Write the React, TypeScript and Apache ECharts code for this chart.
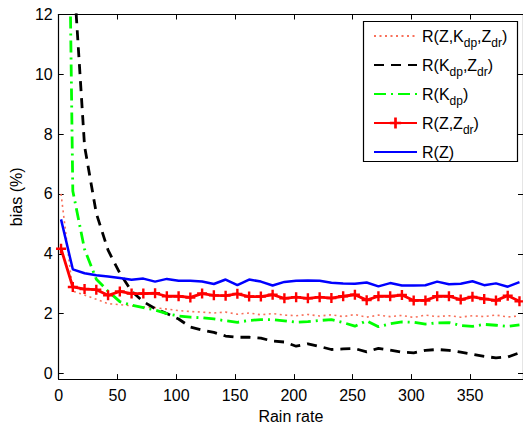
import React, { useEffect, useRef } from 'react';
import * as echarts from 'echarts';

const rainRate = [2, 12, 22, 32, 42, 52, 62, 72, 82, 92, 102, 112, 122, 132, 142, 152, 162, 172, 182, 192, 202, 212, 222, 232, 242, 252, 262, 272, 282, 292, 302, 312, 322, 332, 342, 352, 362, 372, 382, 392];

const biasZKdpZdr = [6.0, 2.75, 2.62, 2.48, 2.33, 2.3, 2.26, 2.22, 2.2, 2.15, 2.1, 2.07, 2.05, 2.02, 2.05, 1.98, 2.02, 1.96, 2.0, 1.95, 1.93, 1.97, 1.92, 1.96, 1.9, 1.97, 1.88, 1.95, 1.9, 1.94, 1.87, 1.95, 1.9, 1.93, 1.88, 1.93, 1.9, 1.95, 1.89, 1.92];

const biasKdpZdr = [45, 13.8, 7.6, 5.35, 4.12, 3.35, 2.75, 2.4, 2.17, 2.0, 1.82, 1.55, 1.45, 1.37, 1.25, 1.21, 1.21, 1.18, 1.08, 1.05, 0.91, 0.99, 0.9, 0.8, 0.82, 0.83, 0.72, 0.84, 0.78, 0.71, 0.69, 0.77, 0.8, 0.77, 0.71, 0.64, 0.57, 0.52, 0.55, 0.69];

const biasKdp = [36, 6.1, 4.15, 3.15, 2.75, 2.4, 2.28, 2.2, 2.12, 2.0, 1.92, 1.88, 1.86, 1.82, 1.76, 1.71, 1.77, 1.8, 1.8, 1.76, 1.71, 1.73, 1.77, 1.8, 1.7, 1.58, 1.76, 1.56, 1.66, 1.72, 1.71, 1.65, 1.69, 1.7, 1.6, 1.57, 1.64, 1.61, 1.57, 1.62];

const biasZZdr = [4.17, 2.89, 2.82, 2.8, 2.61, 2.74, 2.67, 2.67, 2.68, 2.58, 2.58, 2.54, 2.67, 2.61, 2.6, 2.66, 2.57, 2.57, 2.63, 2.51, 2.55, 2.51, 2.55, 2.52, 2.58, 2.63, 2.45, 2.58, 2.58, 2.62, 2.44, 2.44, 2.58, 2.58, 2.47, 2.56, 2.49, 2.44, 2.6, 2.41];

const biasZ = [5.15, 3.48, 3.35, 3.28, 3.24, 3.19, 3.13, 3.17, 3.07, 3.16, 3.1, 3.1, 3.07, 2.99, 3.14, 2.95, 3.14, 3.07, 2.94, 3.06, 3.1, 3.11, 3.1, 3.03, 3.01, 3.0, 3.04, 2.91, 3.02, 2.94, 2.94, 2.95, 3.07, 2.98, 3.0, 3.08, 2.95, 3.01, 2.9, 3.05];

const seriesNames = ['R(Z,Kdp,Zdr)', 'R(Kdp,Zdr)', 'R(Kdp)', 'R(Z,Zdr)', 'R(Z)'];
const legendLabels: Record<string, string> = {
  'R(Z,Kdp,Zdr)': '{n|R(Z,K}{s|dp}{n|,Z}{s|dr}{n|)}',
  'R(Kdp,Zdr)': '{n|R(K}{s|dp}{n|,Z}{s|dr}{n|)}',
  'R(Kdp)': '{n|R(K}{s|dp}{n|)}',
  'R(Z,Zdr)': '{n|R(Z,Z}{s|dr}{n|)}',
  'R(Z)': '{n|R(Z)}',
};
const withMarker = ['R(Z,Zdr)'];

const xTicks = [0, 50, 100, 150, 200, 250, 300, 350];
const yTicks = [0, 2, 4, 6, 8, 10, 12];

const FONT = '"Liberation Sans", Arial, Helvetica, sans-serif';
const PLUS = 'path://M3.8,0H6.2V3.8H10V6.2H6.2V10H3.8V6.2H0V3.8H3.8Z';

function pairs(ys: number[]) {
  return rainRate.map((x, i) => [x, ys[i]]);
}

export default function App() {
  const ref = useRef<HTMLDivElement>(null);
  useEffect(() => {
    const chart = echarts.init(ref.current!, null, { renderer: 'svg' });
    const axisCommon = {
      type: 'value' as const,
      splitLine: { show: false },
      axisLine: { show: true, onZero: false, lineStyle: { color: '#000', width: 1.2 } },
      axisTick: { show: true, inside: true, length: 5, lineStyle: { color: '#000', width: 1 } },
    };
    const xFmt = (v: number) => (xTicks.includes(v) ? String(v) : '');
    const yFmt = (v: number) => {
      const t = yTicks.find((k) => Math.abs(k - v) < 1e-6);
      return t === undefined ? '' : String(t);
    };
    chart.setOption({
      animation: false,
      backgroundColor: '#fff',
      textStyle: { fontFamily: FONT },
      grid: { left: 57, top: 14.5, width: 466.4, height: 369.6 },
      xAxis: [
        {
          ...axisCommon,
          position: 'bottom',
          min: 0,
          max: 395,
          interval: 50,
          axisLabel: { color: '#000', fontSize: 16, fontFamily: FONT, margin: 8, formatter: xFmt, showMaxLabel: false },
          name: 'Rain rate',
          nameLocation: 'middle',
          nameGap: 26,
          nameTextStyle: { color: '#000', fontSize: 16, fontFamily: FONT },
        },
        {
          ...axisCommon,
          position: 'top',
          min: 0,
          max: 395,
          interval: 50,
          axisLabel: { show: false },
        },
      ],
      yAxis: [
        {
          ...axisCommon,
          position: 'left',
          min: -0.19,
          max: 12,
          splitNumber: 6,
          axisLabel: { color: '#000', fontSize: 16, fontFamily: FONT, margin: 6, formatter: yFmt },
          name: 'bias (%)',
          nameLocation: 'middle',
          nameGap: 30,
          nameTextStyle: { color: '#000', fontSize: 16, fontFamily: FONT },
        },
        {
          ...axisCommon,
          position: 'right',
          min: -0.19,
          max: 12,
          splitNumber: 6,
          axisLabel: { show: false },
        },
      ],
      graphic: [
        {
          type: 'rect',
          z: 3,
          shape: { x: 363.5, y: 21.5, width: 154, height: 140 },
          style: { fill: '#fff', stroke: '#000', lineWidth: 1.2 },
        },
      ],
      legend: {
        orient: 'vertical',
        left: 373,
        top: 28,
        padding: 0,
        itemGap: 8,
        itemWidth: 43,
        itemHeight: 14,
        z: 5,
        data: seriesNames.map((name) =>
          withMarker.includes(name) ? { name } : { name, itemStyle: { opacity: 0 } }
        ),
        formatter: (name: string) => legendLabels[name],
        textStyle: {
          color: '#000',
          fontFamily: FONT,
          fontSize: 16,
          rich: {
            n: { fontSize: 16, fontFamily: FONT, color: '#000', lineHeight: 16, verticalAlign: 'top' },
            s: { fontSize: 12, fontFamily: FONT, color: '#000', lineHeight: 12, padding: [9, 0, 0, 0], verticalAlign: 'top' },
          },
        },
      },
      series: [
        {
          name: seriesNames[0],
          type: 'line',
          data: pairs(biasZKdpZdr),
          symbol: 'none',
          color: '#F8705A',
          lineStyle: { color: '#F8705A', width: 1.6, type: [2, 3.5] },
        },
        {
          name: seriesNames[1],
          type: 'line',
          data: pairs(biasKdpZdr),
          symbol: 'none',
          color: '#000000',
          lineStyle: { color: '#000000', width: 2.8, type: [10, 7] },
        },
        {
          name: seriesNames[2],
          type: 'line',
          data: pairs(biasKdp),
          symbol: 'none',
          color: '#00FF00',
          lineStyle: { color: '#00FF00', width: 2.8, type: [12, 5, 2, 5] },
        },
        {
          name: seriesNames[3],
          type: 'line',
          data: pairs(biasZZdr),
          symbol: PLUS,
          symbolSize: 10,
          showAllSymbol: true,
          color: '#FF0000',
          itemStyle: { color: '#FF0000', borderWidth: 0 },
          lineStyle: { color: '#FF0000', width: 2.8 },
        },
        {
          name: seriesNames[4],
          type: 'line',
          data: pairs(biasZ),
          symbol: 'none',
          color: '#0000FF',
          lineStyle: { color: '#0000FF', width: 2.5 },
        },
      ],
    });
    return () => chart.dispose();
  }, []);
  return <div ref={ref} style={{ position: 'absolute', left: 0, top: 0, width: 523, height: 429 }} />;
}
